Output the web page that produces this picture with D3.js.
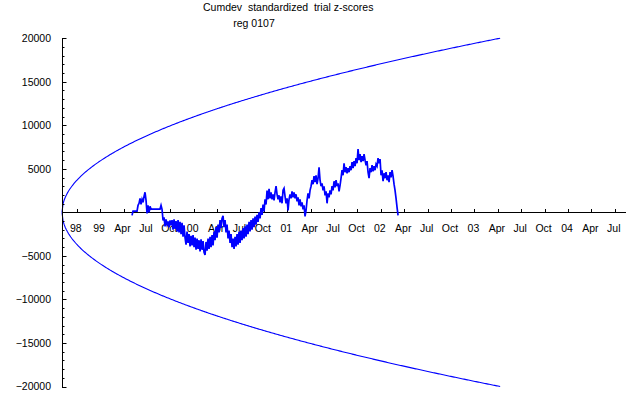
<!DOCTYPE html>
<html>
<head>
<meta charset="utf-8">
<script src="https://cdn.jsdelivr.net/npm/d3@7"></script>
<style>
  html, body { margin: 0; padding: 0; background: #fff; }
  text { font-family: "Liberation Sans", Arial, sans-serif; font-size: 10.5px; fill: #000; white-space: pre; }
</style>
</head>
<body>
<svg id="chart" width="640" height="395"></svg>
<script>
// ---- data ----
const titleLines = ["Cumdev  standardized  trial z-scores", "reg 0107"];
// x axis: one tick per quarter (index 0..23)
const xTickLabels = ["98","99","Apr","Jul","Oct","00","Apr","Jul","Oct","01","Apr","Jul","Oct","02","Apr","Jul","Oct","03","Apr","Jul","Oct","04","Apr","Jul"];
const yMajorTicks = [-20000, -15000, -10000, -5000, 5000, 10000, 15000, 20000];
const yMinorStep = 1000;
// time domain in quarter units (origin of the walk / envelope at -0.63)
const xDomain = [-0.63, 23.48];
const yDomain = [-20000, 20000];
// envelope: reaches +/-20000 at t = 18.1
const envelopeStart = -0.63;
const envelopeEnd = 18.1;
const envelopeMax = 20000;
// cumulative deviation samples
const seriesStart = 2.364;     // quarter units
const seriesStep = 0.04275;    // quarter units per sample
const cumdev = [
 -350,150,150,150,150,150,810,1040,1610,920,1500,1150,1840,2300,1380,-120,810,0,690,350,
 380,380,380,380,380,380,380,380,380,810,350,-920,-580,-1610,-810,-1380,-1040,-1730,-920,-1500,
 -900,-2000,-800,-1900,-1000,-2200,-900,-2300,-1100,-2500,-1200,-2800,-1500,-2900,-3700,-2200,-3500,-2500,-3900,-2700,
 -3800,-2600,-4000,-2900,-4300,-3000,-4200,-3200,-4500,-3100,-4300,-3300,-4600,-4900,-3400,-4400,-3000,-4200,-2800,-4000,
 -2600,-3800,-2200,-3200,-1700,-2900,-1400,-2300,-900,-1800,-700,-400,-1700,-900,-2300,-1400,-3000,-2100,-3500,-2500,
 -4000,-3000,-4200,-2800,-3900,-2500,-3700,-2200,-3500,-2100,-3200,-1800,-3000,-1600,-2800,-1400,-2500,-1100,-2200,-900,
 -2000,-700,-1700,-500,-1400,-300,-1100,0,-700,500,-300,900,100,1500,900,2500,1500,2700,1600,2300,
 1500,2070,1380,2300,3000,2070,1500,1960,1150,1840,1040,2530,2760,1840,1040,1610,230,1500,2070,1610,
 2420,1730,2300,1610,2070,1270,1730,810,1500,690,1150,350,810,-460,230,1380,2190,1610,2530,3000,
 3690,3230,4150,3460,4260,3230,3920,5180,3690,3000,3340,2530,3000,1960,2420,1040,2190,1730,2530,2070,
 3000,2530,3570,2880,3690,3000,3340,2420,3110,3920,4840,4260,5640,4610,5180,4490,5070,4610,5300,4840,
 5760,5070,5880,5300,6220,5640,7260,5990,6680,5760,6450,5880,6680,5990,5410,5880,4610,3920,5070,4610,
 5410,4720,5300,4840,5530,5300,6220,5640,6110,4260,4840,3570,4490,3920,4610,3690,4260,3460,4610,4030,
 4840,4150,3230,2530,1610,580,-350
];

// ---- drawing ----
const svg = d3.select("#chart");
const x = d3.scaleLinear().domain(xDomain).range([62, 626]);
const y = d3.scaleLinear().domain(yDomain).range([386.5, 38.2]);
const blue = "#0000ff";

// title
svg.append("text").attr("x", 203).attr("y", 11).text(titleLines[0]);
svg.append("text").attr("x", 254).attr("y", 27).attr("text-anchor", "middle").text(titleLines[1]);

// envelope
const envT = d3.range(0, 401).map(i => envelopeStart + (envelopeEnd - envelopeStart) * i / 400);
const envVal = t => envelopeMax * Math.sqrt((t - envelopeStart) / (envelopeEnd - envelopeStart));
const envLineTop = d3.line().x(t => x(t)).y(t => y(envVal(t)));
const envLineBot = d3.line().x(t => x(t)).y(t => y(-envVal(t)));
svg.append("path").attr("d", envLineTop(envT)).attr("fill", "none").attr("stroke", blue).attr("stroke-width", 1.1);
svg.append("path").attr("d", envLineBot(envT)).attr("fill", "none").attr("stroke", blue).attr("stroke-width", 1.1);

// y axis
const yAxisG = svg.append("g").attr("transform", `translate(${x(xDomain[0])},0)`);
yAxisG.append("line").attr("x1", 0).attr("x2", 0).attr("y1", y(yDomain[0])).attr("y2", y(yDomain[1]))
  .attr("stroke", "#000").attr("shape-rendering", "crispEdges");
const minor = d3.range(yDomain[0], yDomain[1] + 1, yMinorStep).filter(v => v !== 0 && v % 5000 !== 0);
yAxisG.selectAll("line.minor").data(minor).join("line").attr("class", "minor")
  .attr("x1", 0).attr("x2", 2.5).attr("y1", d => Math.round(y(d)) + 0.5).attr("y2", d => Math.round(y(d)) + 0.5)
  .attr("stroke", "#000");
yAxisG.selectAll("line.major").data(yMajorTicks).join("line").attr("class", "major")
  .attr("x1", 0).attr("x2", 4.5).attr("y1", d => Math.round(y(d)) + 0.5).attr("y2", d => Math.round(y(d)) + 0.5)
  .attr("stroke", "#000");
yAxisG.selectAll("text").data(yMajorTicks).join("text")
  .attr("x", -11).attr("y", d => y(d) + 3.8).attr("text-anchor", "end")
  .text(d => d < 0 ? "\u2212" + Math.abs(d) : String(d));

// x axis
const xAxisG = svg.append("g").attr("transform", `translate(0,${Math.round(y(0)) + 0.5})`);
xAxisG.append("line").attr("x1", x(xDomain[0])).attr("x2", x(xDomain[1])).attr("y1", 0).attr("y2", 0)
  .attr("stroke", "#000");
const xTicks = xTickLabels.map((l, i) => i);
xAxisG.selectAll("line.tick").data(xTicks).join("line").attr("class", "tick")
  .attr("x1", d => Math.round(x(d)) + 0.5).attr("x2", d => Math.round(x(d)) + 0.5).attr("y1", 0).attr("y2", -3.5)
  .attr("stroke", "#000");
xAxisG.selectAll("text").data(xTicks).join("text")
  .attr("x", d => x(d) - 1).attr("y", 19).attr("text-anchor", "middle")
  .text(d => xTickLabels[d]);

// cumdev series
const line = d3.line().x((d, i) => x(seriesStart + i * seriesStep)).y(d => y(d));
svg.append("path").attr("d", line(cumdev)).attr("fill", "none").attr("stroke", blue)
  .attr("stroke-width", 1.7).attr("stroke-linejoin", "miter");
</script>
</body>
</html>
